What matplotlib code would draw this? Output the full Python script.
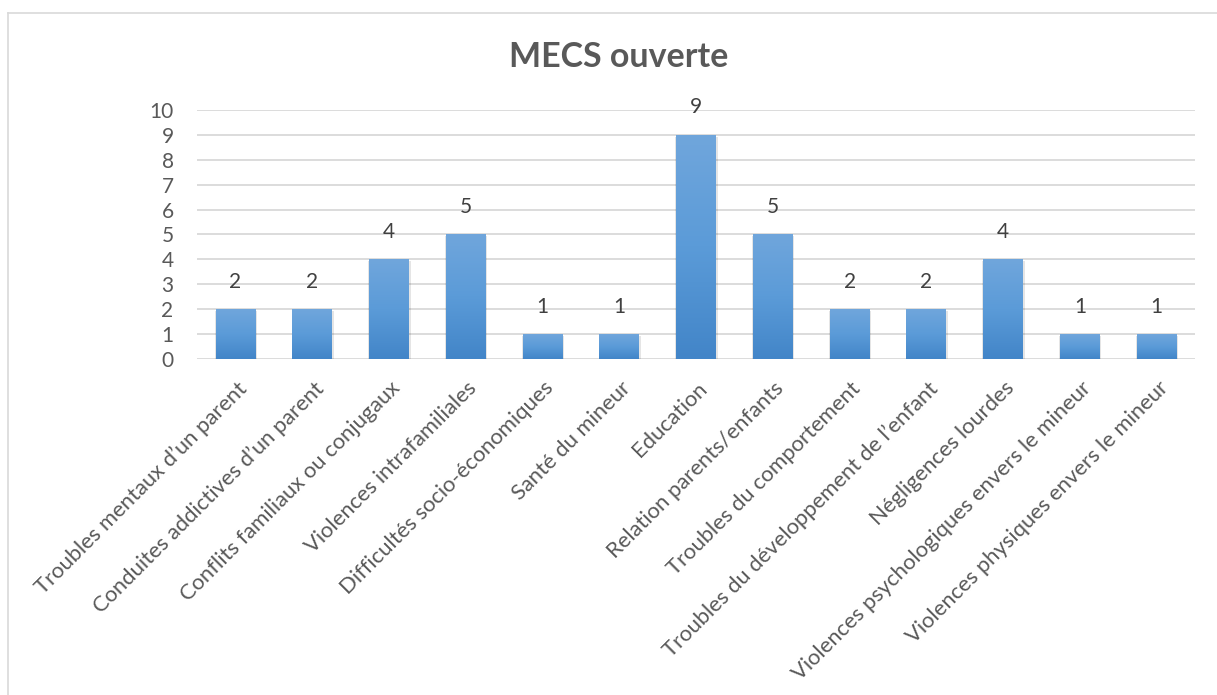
import numpy as np
import matplotlib
matplotlib.use("Agg")
import matplotlib.pyplot as plt
import matplotlib.transforms as mtransforms
from matplotlib.colors import LinearSegmentedColormap
from matplotlib.patches import Rectangle

# data
categories = [
    "Troubles mentaux d\u2019un parent",
    "Conduites addictives d\u2019un parent",
    "Conflits familiaux ou conjugaux",
    "Violences intrafamiliales",
    "Difficultés socio-économiques",
    "Santé du mineur",
    "Education",
    "Relation parents/enfants",
    "Troubles du comportement",
    "Troubles du développement de l\u2019enfant",
    "Négligences lourdes",
    "Violences psychologiques envers le mineur",
    "Violences physiques envers le mineur",
]
values = [2, 2, 4, 5, 1, 1, 9, 5, 2, 2, 4, 1, 1]
yticks = list(range(0, 11))
title = "MECS ouverte"

plt.rcParams['font.family'] = ['Lato', 'DejaVu Sans']

fig = plt.figure(figsize=(12.17, 6.95), dpi=100)
ax = fig.add_axes([0.162, 0.4835, 0.820, 0.3582])

# outer chart border (only top and left visible in the crop)
fig.add_artist(plt.Line2D([8/1217, 1.0], [1 - 13/695, 1 - 13/695],
                          transform=fig.transFigure, color='#d9d9d9', lw=1.2))
fig.add_artist(plt.Line2D([8/1217, 8/1217], [0.0, 1 - 13/695],
                          transform=fig.transFigure, color='#d9d9d9', lw=1.2))

x = np.arange(len(categories))
width = 0.52

cmap = LinearSegmentedColormap.from_list('bluegrad', ['#4285c8', '#5b9bd8', '#70a6dc'])
grad = np.linspace(0, 1, 256).reshape(-1, 1)

for xi, v in zip(x, values):
    # soft shadow
    sh = Rectangle((xi - width/2 - 0.01, -0.12), width + 0.03, v + 0.05,
                   facecolor='#000000', alpha=0.10, edgecolor='none', zorder=2)
    ax.add_patch(sh)
    bar = Rectangle((xi - width/2, 0), width, v, facecolor='#5b9bd5',
                    edgecolor='none', zorder=3)
    ax.add_patch(bar)
    im = ax.imshow(grad, cmap=cmap, origin='lower', aspect='auto',
                   extent=[xi - width/2, xi + width/2, 0, v], zorder=3.5)
    im.set_clip_path(bar)
    ax.text(xi, v + 0.7, str(v), ha='center', va='bottom',
            fontsize=15, color='#404040', zorder=5)

ax.set_xlim(-0.5, len(categories) - 0.5)
ax.set_ylim(0, 10)
ax.set_yticks(yticks)
ax.set_yticklabels([str(t) for t in yticks], fontsize=15, color='#595959')
ax.yaxis.grid(True, color='#d9d9d9', lw=1.3, zorder=0)
ax.set_axisbelow(True)
for s in ax.spines.values():
    s.set_visible(False)
ax.tick_params(axis='both', length=0, pad=17)

ax.set_xticks(x)
ax.set_xticklabels([])
offset = mtransforms.ScaledTranslation(1/100, -19/100, fig.dpi_scale_trans)
for xi, lab in zip(x, categories):
    ax.text(xi, 0, lab, rotation=45, ha='right', va='top',
            rotation_mode='anchor', fontsize=15.8, color='#595959',
            transform=ax.transData + offset)

fig.text(0.5085, 1 - 57/695, title, ha='center', va='center',
         fontsize=24.5, fontweight='bold', color='#595959')

fig.savefig('out.png', dpi=100, facecolor='white')
